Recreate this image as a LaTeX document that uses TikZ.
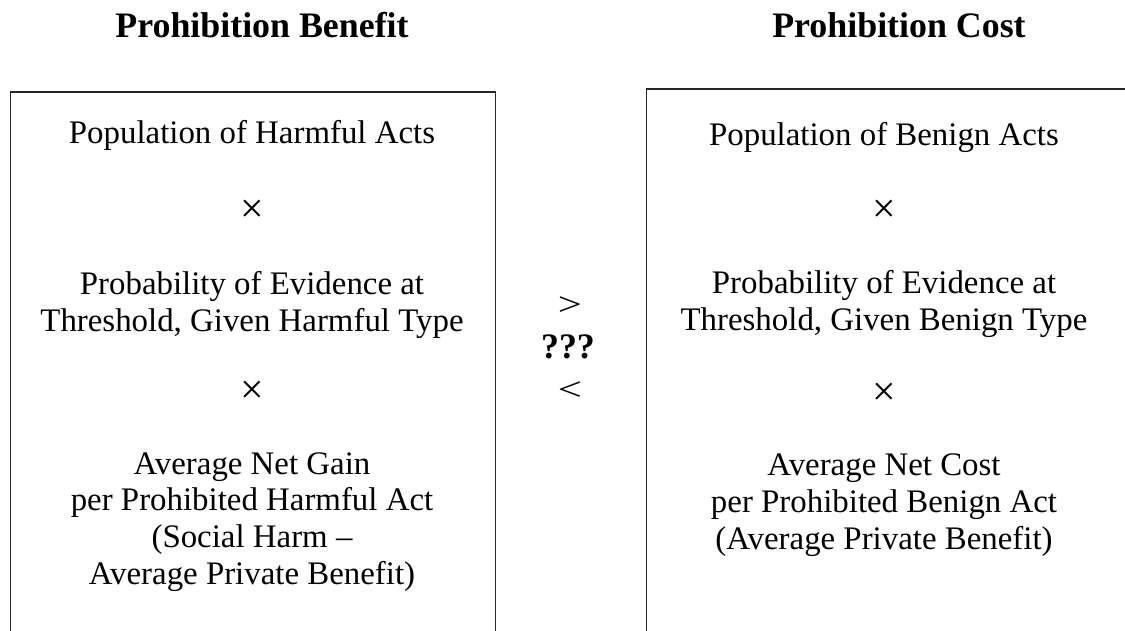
\documentclass[tikz,border=0pt]{standalone}
\usepackage{fontspec}
\setmainfont{Liberation Serif}
\begin{document}
\begin{tikzpicture}[x=1bp,y=-1bp,
  boxframe/.style={draw=black!85,line width=1.3bp},
  body/.style={font=\fontsize{33}{37}\selectfont,align=center,inner sep=0pt,anchor=center},
  times/.style={font=\fontsize{42}{46}\selectfont,inner sep=0pt,anchor=base},
  title/.style={font=\fontsize{36}{40}\selectfont\bfseries,inner sep=0pt},
  midsym/.style={font=\fontsize{33}{37}\selectfont,inner sep=0pt}]
\useasboundingbox (0,0) rectangle (1125,631);
\clip (0,0) rectangle (1125,631);
% boxes
\node[boxframe,inner sep=0pt,minimum width=485bp,minimum height=560bp,anchor=north west] (lbox) at (9.5,91.5) {};
\node[boxframe,inner sep=0pt,minimum width=500bp,minimum height=560bp,anchor=north west] (rbox) at (645.5,88.5) {};
% titles
\node[title] (lt) at (262,25) {Prohibition Benefit};
\node[title] (rt) at (899,25) {Prohibition Cost};
% left content
\node[body] (l1) at (252,135) {Population of Harmful Acts};
\node[times] (lx1) at (252,222.5) {×};
\node[body] (l2) at (252,305) {Probability of Evidence at\\Threshold, Given Harmful Type};
\node[times] (lx2) at (252,403) {×};
\node[body] (l3) at (252,522) {Average Net Gain\\per Prohibited Harmful Act\\(Social Harm –\\Average Private Benefit)};
% right content
\node[body] (r1) at (884,137) {Population of Benign Acts};
\node[times] (rx1) at (884,222.5) {×};
\node[body] (r2) at (884,304) {Probability of Evidence at\\Threshold, Given Benign Type};
\node[times] (rx2) at (884,405) {×};
\node[body] (r3) at (884,505) {Average Net Cost\\per Prohibited Benign Act\\(Average Private Benefit)};
% middle
\node[midsym] (gt) at (570,306) {\scalebox{1.3}[1]{>}};
\node[midsym,font=\fontsize{36}{40}\selectfont\bfseries] (qq) at (568,347) {???};
\node[midsym] (lt2) at (570,391) {\scalebox{1.3}[1]{<}};
\end{tikzpicture}
\end{document}
